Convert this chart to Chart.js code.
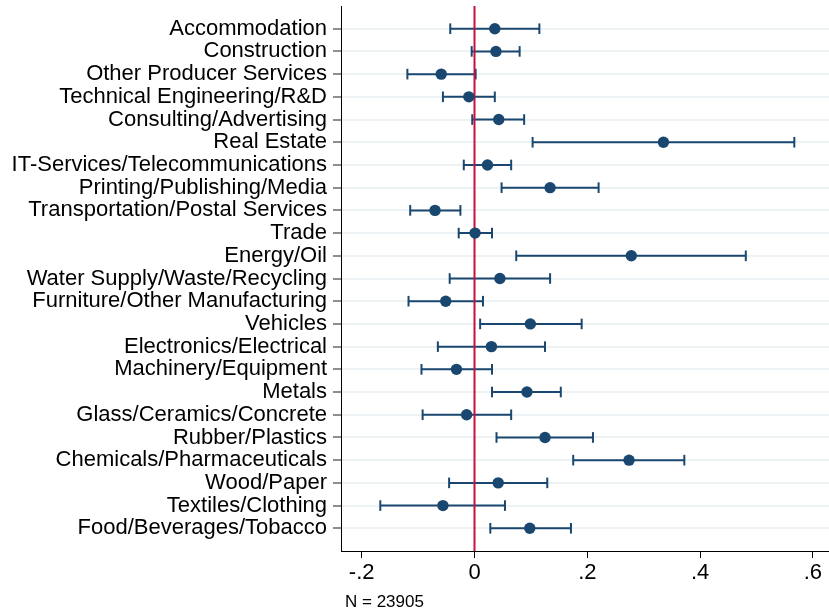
<!DOCTYPE html>
<html><head><meta charset="utf-8">
<script src="https://cdn.jsdelivr.net/npm/chart.js@4/dist/chart.umd.min.js"></script>
<style>html,body{margin:0;padding:0;background:#fff;} #wrap{width:829px;height:615px;position:relative;}</style>
</head><body><div id="wrap"><canvas id="c" width="829" height="615"></canvas></div>
<script>
const categories = ["Accommodation","Construction","Other Producer Services","Technical Engineering/R&D","Consulting/Advertising","Real Estate","IT-Services/Telecommunications","Printing/Publishing/Media","Transportation/Postal Services","Trade","Energy/Oil","Water Supply/Waste/Recycling","Furniture/Other Manufacturing","Vehicles","Electronics/Electrical","Machinery/Equipment","Metals","Glass/Ceramics/Concrete","Rubber/Plastics","Chemicals/Pharmaceuticals","Wood/Paper","Textiles/Clothing","Food/Beverages/Tobacco"];
const coef  = [0.036, 0.038,-0.059,-0.010, 0.043, 0.335, 0.023, 0.134,-0.070, 0.001, 0.278, 0.045,-0.051, 0.099, 0.030,-0.032, 0.093,-0.014, 0.125, 0.274, 0.042,-0.056, 0.098];
const lower = [-0.043,-0.005,-0.119,-0.056,-0.004, 0.103,-0.019, 0.048,-0.114,-0.028, 0.074,-0.044,-0.117, 0.010,-0.065,-0.094, 0.031,-0.092, 0.039, 0.175,-0.045,-0.167, 0.028];
const upper = [0.115, 0.080, 0.002, 0.036, 0.088, 0.567, 0.065, 0.220,-0.025, 0.031, 0.481, 0.134, 0.015, 0.190, 0.125, 0.031, 0.153, 0.065, 0.210, 0.372, 0.129, 0.054, 0.171];
const xTickValues = [-0.2, 0, 0.2, 0.4, 0.6];
const xTickLabels = ["-.2", "0", ".2", ".4", ".6"];
const refLineValue = 0;
const noteText = "N = 23905";

const FONT = "'Liberation Sans', Arial, Helvetica, sans-serif";
const NAVY = '#1a476f';
const RED = '#c8103f';

const pointsData = coef.map((v, i) => ({x: v, y: i + 1}));
const ciData = [];
categories.forEach((c, i) => {
  ciData.push({x: lower[i], y: i + 1}, {x: upper[i], y: i + 1}, {x: null, y: null});
});

const notePlugin = {
  id: 'note',
  afterDraw(chart) {
    const {ctx, chartArea} = chart;
    ctx.save();
    ctx.font = '17px ' + FONT;
    ctx.fillStyle = '#000';
    ctx.textBaseline = 'alphabetic';
    ctx.textAlign = 'left';
    ctx.fillText(noteText, chartArea.left + 4, 607);
    ctx.restore();
  }
};

new Chart(document.getElementById('c'), {
  type: 'scatter',
  data: {
    datasets: [
      {
        type: 'scatter', data: pointsData, order: 0,
        backgroundColor: NAVY, borderColor: NAVY, pointRadius: 5.7, pointBorderWidth: 0
      },
      {
        type: 'line', data: [{x: refLineValue, y: 0}, {x: refLineValue, y: 24}], order: 1,
        borderColor: RED, borderWidth: 2, pointRadius: 0, fill: false
      },
      {
        type: 'line', data: ciData, order: 2, spanGaps: false,
        borderColor: NAVY, borderWidth: 2, fill: false, tension: 0,
        pointStyle: 'line', pointRotation: 90, pointRadius: 5.3,
        pointBorderWidth: 2, pointBorderColor: NAVY, pointBackgroundColor: NAVY
      }
    ]
  },
  options: {
    responsive: false,
    animation: false,
    devicePixelRatio: 1,
    events: [],
    layout: {autoPadding: false, padding: {top: 6, right: 0, bottom: 0, left: 0}},
    plugins: {legend: {display: false}, tooltip: {enabled: false}, title: {display: false}},
    scales: {
      x: {
        type: 'linear', min: -0.2367, max: 0.6285,
        afterBuildTicks: s => { s.ticks = xTickValues.map(v => ({value: v})); },
        afterFit: s => { s.height = 64; s.paddingLeft = 0; s.paddingRight = 0; },
        ticks: {
          autoSkip: false, maxRotation: 0, padding: 2, color: '#000',
          font: {family: FONT, size: 22},
          callback: (v) => { const k = xTickValues.findIndex(t => Math.abs(t - v) < 1e-9); return k >= 0 ? xTickLabels[k] : ''; }
        },
        grid: {drawOnChartArea: false, drawTicks: true, tickLength: 7, tickColor: '#000', tickWidth: 1},
        border: {display: true, color: '#000', width: 1}
      },
      y: {
        type: 'linear', min: 0, max: 24, reverse: true,
        afterBuildTicks: s => { s.ticks = categories.map((c, i) => ({value: i + 1})); },
        afterFit: s => { s.width = 341; s.paddingTop = 0; s.paddingBottom = 0; },
        ticks: {
          autoSkip: false, padding: 6, color: '#000',
          font: {family: FONT, size: 22},
          callback: (v) => categories[Math.round(v) - 1] || ''
        },
        grid: {color: '#edf2f4', lineWidth: 2, drawTicks: true, tickLength: 8, tickColor: '#444', tickWidth: 1.2},
        border: {display: true, color: '#000', width: 1}
      }
    }
  },
  plugins: [notePlugin]
});
</script>
</body></html>
